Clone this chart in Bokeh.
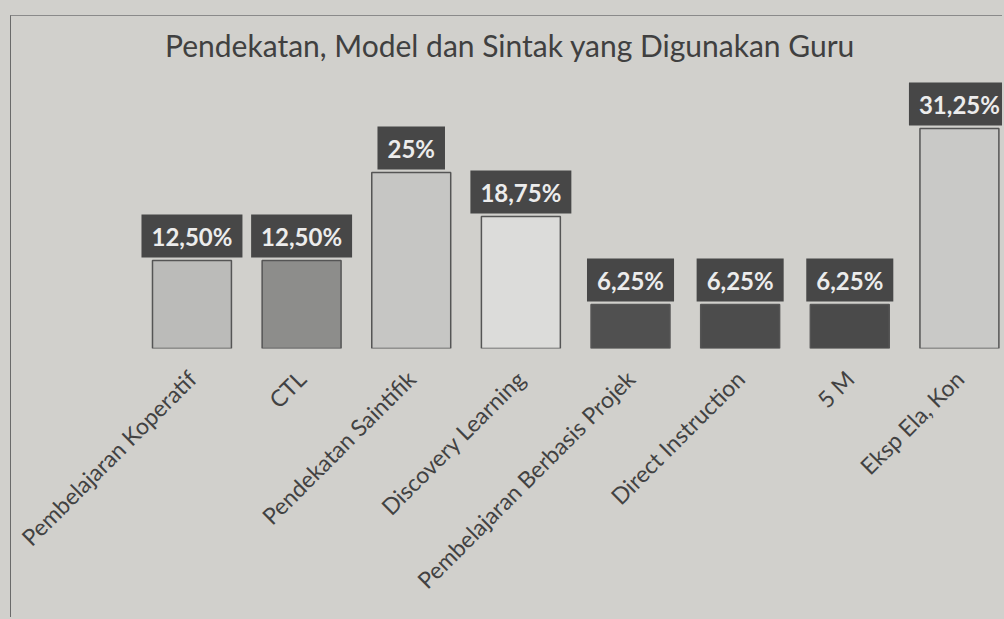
import math
from bokeh.plotting import figure
from bokeh.models import Range1d, FixedTicker, Label, ColumnDataSource
from bokeh.core.properties import value
from bokeh.embed import file_html
from bokeh.resources import INLINE

# ---- data ----
categories = ["Pembelajaran Koperatif", "CTL", "Pendekatan Saintifik", "Discovery Learning",
              "Pembelajaran Berbasis Projek", "Direct Instruction", "5 M", "Eksp Ela, Kon"]
percentages = [12.5, 12.5, 25.0, 18.75, 6.25, 6.25, 6.25, 31.25]
value_labels = ["12,50%", "12,50%", "25%", "18,75%", "6,25%", "6,25%", "6,25%", "31,25%"]
bar_colors = ["#bbbbb9", "#8d8d8b", "#c6c6c4", "#dcdcda", "#505050", "#4c4c4c", "#4a4a4a", "#c9c9c7"]
title_text = "Pendekatan, Model dan Sintak yang Digunakan Guru"

BG = "#d1d0cc"
positions = list(range(len(categories)))
source = ColumnDataSource(dict(x=positions, top=percentages, label=value_labels, color=bar_colors))

p = figure(width=992, height=602, output_backend="svg", toolbar_location=None,
           x_range=Range1d(-1.646, 7.402), y_range=Range1d(0, 47.16),
           min_border_left=0, min_border_right=0, min_border_top=0, min_border_bottom=270,
           y_axis_location=None, background_fill_color=BG, border_fill_color=BG,
           outline_line_color=None)
p.grid.visible = False
p.styles = {"border-left": "1.5px solid #6a6a6a", "border-top": "1.5px solid #8a8a8a"}
p.margin = (15, 0, 0, 10)

p.vbar(x="x", top="top", bottom=0, width=0.72, fill_color="color",
       line_color="#555555", line_width=1.5, source=source)

p.text(x="x", y="top", text="label", source=source, anchor="bottom_center", y_offset=-3,
       text_font=value("Lato"), text_font_style="bold", text_font_size="24px",
       text_color="#ececec", background_fill_color="#474747", padding=(10, 7))

p.xaxis.ticker = FixedTicker(ticks=positions)
p.xaxis.major_label_overrides = {i: c for i, c in enumerate(categories)}
p.xaxis.major_label_orientation = math.pi / 4
p.xaxis.axis_line_color = None
p.xaxis.major_tick_line_color = None
p.xaxis.minor_tick_line_color = None
p.xaxis.major_label_text_font = "Lato"
p.xaxis.major_label_text_font_size = "23px"
p.xaxis.major_label_text_color = "#424242"
p.xaxis.major_label_standoff = 20

p.add_layout(Label(x=2.901, y=43.1, text=title_text, text_align="center", text_baseline="middle",
                   text_font="Lato", text_font_size="30px", text_color="#404040"))

html = file_html(p, INLINE)
html = html.replace("<body>", '<body style="background-color:%s;">' % BG)
open("out.html", "w").write(html)
